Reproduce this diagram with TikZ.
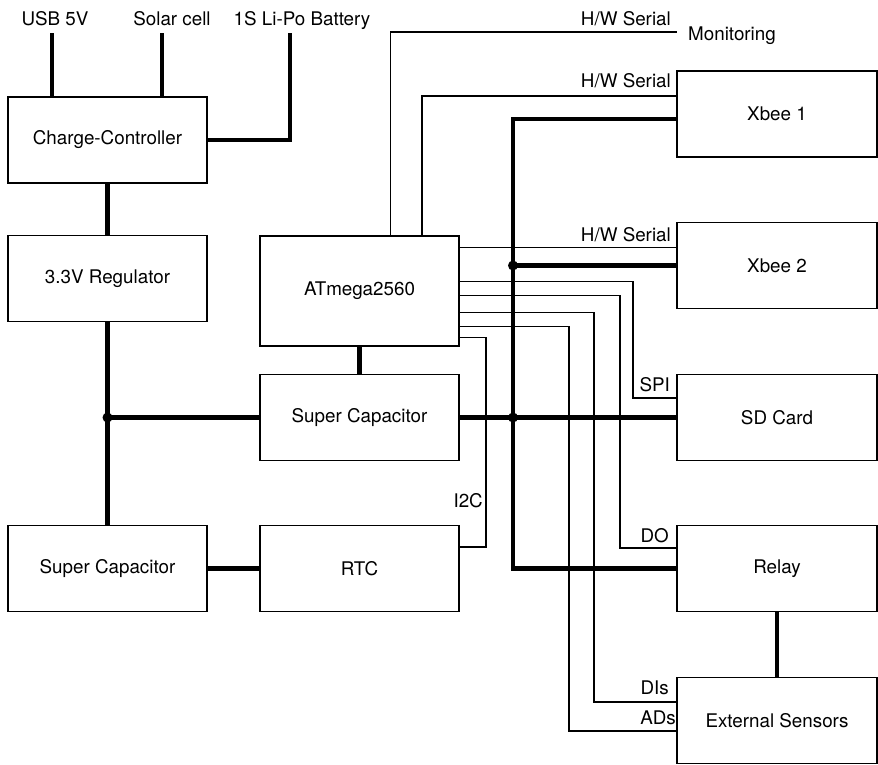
\documentclass[tikz,border=0pt]{standalone}
\usepackage{fontspec}
\setmainfont{TeX Gyre Heros}
\begin{document}
\begin{tikzpicture}[x=1pt,y=-1pt,
  blk/.style={draw, line width=1.5pt, rectangle, inner sep=0pt, minimum width=199pt, minimum height=86pt, font=\fontsize{18.8}{22}\selectfont},
  lbl/.style={inner sep=0pt, font=\fontsize{18.8}{22}\selectfont},
  pw/.style={line width=4.5pt},
  sig/.style={line width=1.3pt},
  jn/.style={circle, fill, inner sep=0pt, minimum size=10pt}]
\useasboundingbox (0,0) rectangle (878,764);
% blocks
\node[blk] (cc) at (107.5,140) {Charge-Controller};
\node[blk] (reg) at (107.5,278.5) {3.3V Regulator};
\node[blk, minimum height=110pt] (atm) at (359.5,291) {ATmega2560};
\node[blk] (scm) at (359.5,417.5) {Super Capacitor};
\node[blk] (scl) at (107.5,568.5) {Super Capacitor};
\node[blk] (rtc) at (359.5,568.5) {RTC};
\node[blk, minimum width=200pt] (x1) at (777,114) {Xbee 1};
\node[blk, minimum width=200pt] (x2) at (777,265.5) {Xbee 2};
\node[blk, minimum width=200pt] (sd) at (777,417.5) {SD Card};
\node[blk, minimum width=200pt] (relay) at (777,568.5) {Relay};
\node[blk, minimum width=200pt] (ext) at (777,720.5) {External Sensors};
% top inputs
\node[lbl, anchor=base] (usb) at (55,25) {USB 5V};
\node[lbl, anchor=base] (solar) at (172,25) {Solar cell};
\node[lbl, anchor=base] (lipo) at (302,25) {1S Li-Po Battery};
\coordinate (usbT) at (52,33);
\coordinate (solT) at (162,33);
\coordinate (lipoT) at (290,33);
\draw[pw] (usbT) -- (usbT |- cc.north);
\draw[pw] (solT) -- (solT |- cc.north);
\draw[pw] (lipoT) |- (cc.east);
% power chain
\draw[pw] (cc.south) -- (reg.north);
\draw[pw] (reg.south) -- (scl.north);
\node[jn] (j1) at (reg.south |- scm.west) {};
\draw[pw] (j1.center) -- (scm.west);
\draw[pw] (atm.south) -- (scm.north);
\draw[pw] (scl.east) -- (rtc.west);
\draw[pw] (scm.east) -- (sd.west);
\draw[pw] (relay.south) -- (ext.north);
% bus
\coordinate (busT) at (513,119);
\draw[pw] (busT -| x1.west) -- (busT) |- (relay.west);
\node[jn] (j2) at (busT |- x2.west) {};
\draw[pw] (j2.center) -- (x2.west);
\node[jn] (j3) at (busT |- sd.west) {};
% signal lines
\coordinate (monEnd) at (677,32);
\coordinate (x1s) at (422,96);
\draw[sig] ([xshift=131pt]atm.north west) |- (monEnd);
\draw[sig] (x1s |- atm.north) -- (x1s) -- (x1s -| x1.west);
\path ([yshift=-12pt]atm.north east) coordinate (p1)
      ([yshift=-46pt]atm.north east) coordinate (p2)
      ([yshift=-60pt]atm.north east) coordinate (p3)
      ([yshift=-77pt]atm.north east) coordinate (p4)
      ([yshift=-91pt]atm.north east) coordinate (p5)
      ([yshift=-102pt]atm.north east) coordinate (p6);
\coordinate (spiK) at (633,398);
\coordinate (doK) at (620,548);
\coordinate (disK) at (594,702);
\coordinate (adsK) at (569,731);
\coordinate (i2cK) at (486,547);
\draw[sig] (p1) -- (p1 -| x2.west);
\draw[sig] (p2) -| (spiK) -- (spiK -| sd.west);
\draw[sig] (p3) -| (doK) -- (doK -| relay.west);
\draw[sig] (p4) -| (disK) -- (disK -| ext.west);
\draw[sig] (p5) -| (adsK) -- (adsK -| ext.west);
\draw[sig] (p6) -| (i2cK) -- (i2cK -| rtc.east);
% labels
\node[lbl, anchor=base east] (hw1) at (671,25) {H/W Serial};
\node[lbl, anchor=base west] (mon) at (688,40) {Monitoring};
\node[lbl, anchor=base east] (hw2) at (671,87) {H/W Serial};
\node[lbl, anchor=base east] (hw3) at (671,241) {H/W Serial};
\node[lbl, anchor=base east] (spi) at (670,391) {SPI};
\node[lbl, anchor=base east] (i2c) at (483,507) {I2C};
\node[lbl, anchor=base east] (do) at (669,542) {DO};
\node[lbl, anchor=base east] (dis) at (669,694) {DIs};
\node[lbl, anchor=base east] (ads) at (676,724) {ADs};
\end{tikzpicture}
\end{document}
